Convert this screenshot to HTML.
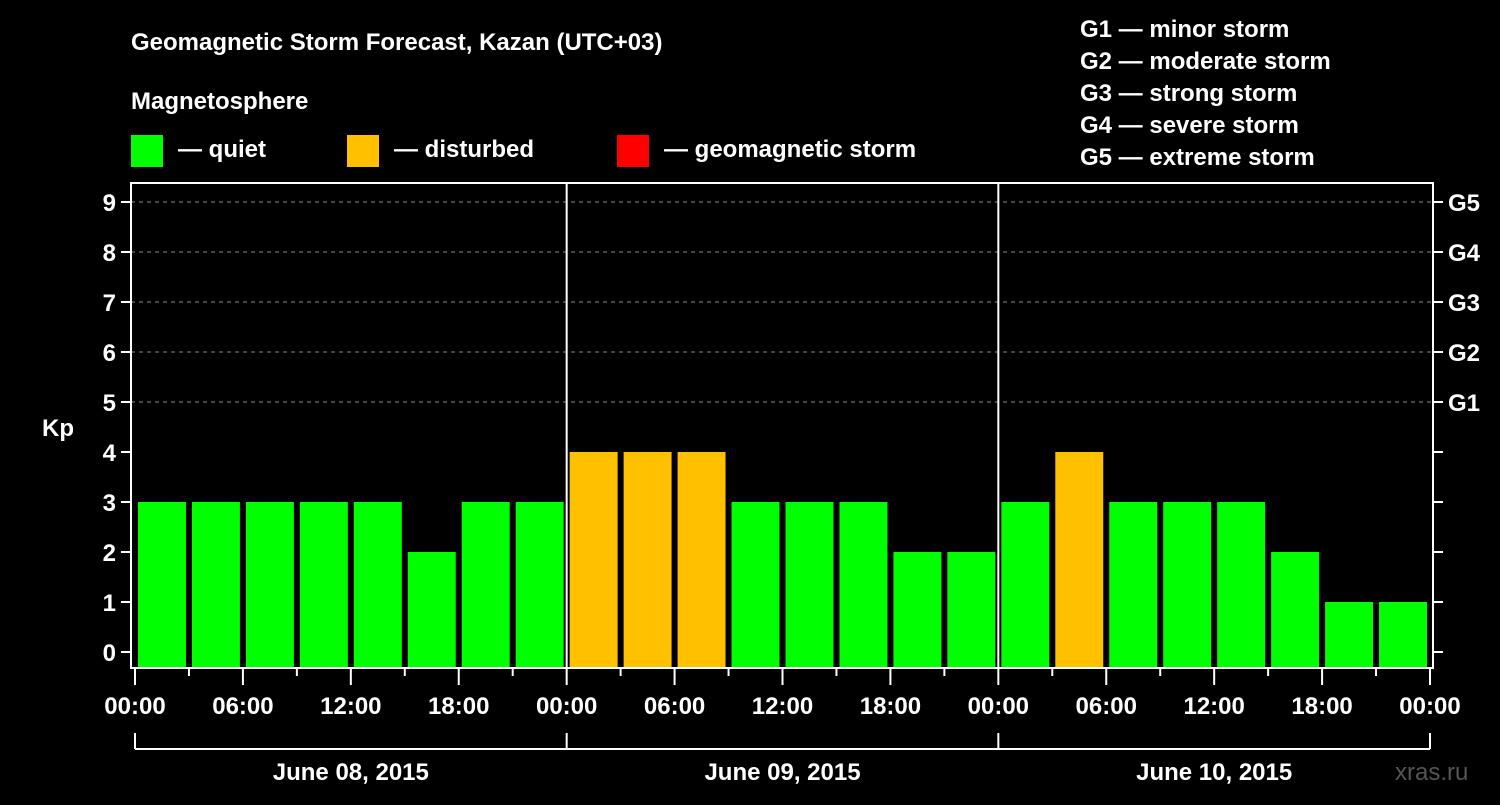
<!DOCTYPE html>
<html><head><meta charset="utf-8"><style>
body{margin:0;background:#000;}
svg text{font-family:"Liberation Sans",Arial,sans-serif;font-weight:bold;fill:#fff;}
</style></head><body>
<svg id="c" width="1500" height="800" viewBox="0 0 1500 800">
<rect width="1500" height="800" fill="#000"/>
<text x="131" y="50" font-size="24">Geomagnetic Storm Forecast, Kazan (UTC+03)</text>
<text x="131" y="109" font-size="24">Magnetosphere</text>
<g>
<rect x="131" y="135" width="32" height="32" fill="#00ff00"/>
<text x="178" y="157" font-size="24">— quiet</text>
<rect x="347" y="135" width="32" height="32" fill="#ffc000"/>
<text x="394" y="157" font-size="24">— disturbed</text>
<rect x="617" y="135" width="32" height="32" fill="#ff0000"/>
<text x="664" y="157" font-size="24">— geomagnetic storm</text>
</g>
<g font-size="24">
<text x="1080" y="37">G1 — minor storm</text>
<text x="1080" y="69">G2 — moderate storm</text>
<text x="1080" y="101">G3 — strong storm</text>
<text x="1080" y="133">G4 — severe storm</text>
<text x="1080" y="165">G5 — extreme storm</text>
</g>
<text x="42" y="436" font-size="24">Kp</text>
<text x="1395" y="780" font-size="24" fill="#555" style="fill:#555;font-weight:normal">xras.ru</text>
<g id="plot"></g>
</svg>
<script>
const days = ["June 08, 2015","June 09, 2015","June 10, 2015"];
const kpValues = [3,3,3,3,3,2,3,3, 4,4,4,3,3,3,2,2, 3,4,3,3,3,2,1,1];
const yTicks = [0,1,2,3,4,5,6,7,8,9];
const gLabels = ["G1","G2","G3","G4","G5"];
const timeLabels = ["00:00","06:00","12:00","18:00"];

const NS="http://www.w3.org/2000/svg";
const plot=document.getElementById('plot');
const X0=135, X1=1430, L=131, R=1433, T=183, B=668;
const totalSlots=kpValues.length, slotW=(X1-X0)/totalSlots;
const x=i=>X0+i*slotW;
const y=v=>652-50*v;
function el(tag,attrs,txt){const e=document.createElementNS(NS,tag);for(const k in attrs)e.setAttribute(k,attrs[k]);if(txt!==undefined)e.textContent=txt;plot.appendChild(e);return e;}
function color(v){return v>=5?"#ff0000":v>=4?"#ffc000":"#00ff00";}

// grid
for(let v=5;v<=9;v++){
  const g=el('line',{x1:L,x2:R,y1:y(v),y2:y(v),stroke:"#888","stroke-dasharray":"4,4","stroke-width":1});
  
  
}
// bars
kpValues.forEach((v,i)=>{
  const r=el('rect',{x:x(i)+3,y:y(v),width:slotW-6,height:B-1-y(v),fill:color(v)});
  
  
});
// frame
const fr=el('rect',{x:L,y:T,width:R-L,height:B-T,fill:"none",stroke:"#fff","stroke-width":2});


// day separators
for(let d=1;d<days.length;d++){
  const s=el('line',{x1:x(d*8),x2:x(d*8),y1:T,y2:B,stroke:"#fff","stroke-width":2});
  
  
}
// y ticks
yTicks.forEach(v=>{
  el('line',{x1:L-10,x2:L,y1:y(v),y2:y(v),stroke:"#fff","stroke-width":2});
  el('line',{x1:R,x2:R+10,y1:y(v),y2:y(v),stroke:"#fff","stroke-width":2});
  const t=el('text',{x:L-15,y:y(v)+9,"font-size":24,"text-anchor":"end"},String(v));
  
  
});
gLabels.forEach((g,i)=>{
  const t=el('text',{x:1448,y:y(5+i)+9,"font-size":24},g);
  
  
});
// x ticks
for(let i=0;i<=totalSlots;i++){
  const major=i%2===0;
  el('line',{x1:x(i),x2:x(i),y1:B,y2:B+(major?17:8),stroke:"#fff","stroke-width":2});
  if(major){
    const lbl=timeLabels[(i/2)%4];
    const t=el('text',{x:x(i),y:714,"font-size":24,"text-anchor":"middle"},lbl);
    
    
  }
}
// day brackets
el('line',{x1:X0,x2:X1,y1:749,y2:749,stroke:"#fff","stroke-width":2});
for(let d=0;d<=days.length;d++){
  el('line',{x1:x(d*8),x2:x(d*8),y1:733,y2:749,stroke:"#fff","stroke-width":2});
}
days.forEach((d,i)=>{
  const t=el('text',{x:(x(i*8)+x(i*8+8))/2,y:780,"font-size":24,"text-anchor":"middle"},d);
  
  
});
</script>
</body></html>
